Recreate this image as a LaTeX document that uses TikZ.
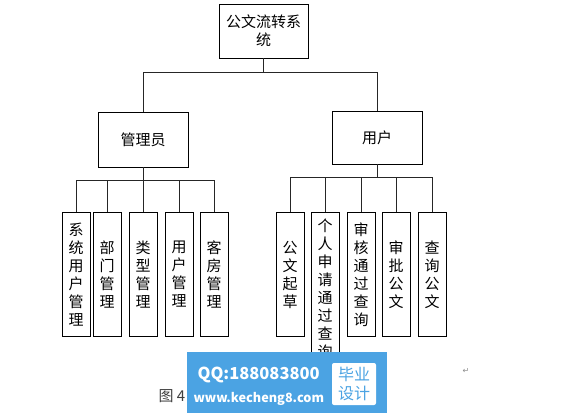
\documentclass[tikz,border=0pt]{standalone}
\usepackage{fontspec}
\setmainfont{Noto Sans CJK SC}
\newfontfamily\symfont{DejaVu Sans}
\usetikzlibrary{positioning}
\definecolor{markblue}{RGB}{75,163,227}

\begin{document}
\begin{tikzpicture}[x=1pt,y=-1pt]
        % ================= 样式定义 =================
        \tikzset{
            % 上层方框:白底黑边
            topbox/.style={draw=black, line width=0.9pt, fill=white, align=center, inner sep=2pt, font=\fontsize{15}{18}\selectfont},
            % 竖排文字的功能方框
            leafbox/.style={draw=black, line width=0.9pt, fill=white, anchor=north, minimum width=28pt, minimum height=124pt, text width=16pt, align=center, inner sep=0pt, font=\fontsize{15}{18}\selectfont},
            % 连线
            link/.style={draw=black!85, line width=0.9pt}
        }

        % 画布大小
        \fill[white] (0,0) rectangle (575,418);
        \useasboundingbox (0,0) rectangle (575,418);

        % ================= 绘图部分 =================

        % 根节点
        \node[topbox, minimum width=89pt, minimum height=54pt] (sys) at (263.5,31) {公文流转系\\统};

        % 第二层
        \node[topbox, minimum width=90pt, minimum height=55pt] (admin) at (143,139.5) {管理员};
        \node[topbox, minimum width=90pt, minimum height=53pt] (user) at (377,137.5) {用户};

        % 管理员的功能
        \node[leafbox] (a1) at (76,212) {系\\统\\用\\户\\管\\理};
        \node[leafbox] (a2) at (107,212) {部\\门\\管\\理};
        \node[leafbox] (a3) at (143,212) {类\\型\\管\\理};
        \node[leafbox] (a4) at (179,212) {用\\户\\管\\理};
        \node[leafbox] (a5) at (214,212) {客\\房\\管\\理};

        % 用户的功能
        \node[leafbox] (u1) at (290,212) {公\\文\\起\\草};
        \node[leafbox, minimum height=152pt] (u2) at (325,212) {个\\人\\申\\请\\通\\过\\查\\询};
        \node[leafbox] (u3) at (361,212) {审\\核\\通\\过\\查\\询};
        \node[leafbox] (u4) at (396,212) {审\\批\\公\\文};
        \node[leafbox] (u5) at (432,212) {查\\询\\公\\文};

        % 连线:根 -> 第二层
        \draw[link] (sys.south) -- ++(0,14) -| (admin.north);
        \draw[link] (sys.south) -- ++(0,14) -| (user.north);

        % 连线:管理员 -> 功能
        \draw[link] (admin.south) -- ++(0,13) -| (a1.north);
        \draw[link] (admin.south) -- ++(0,13) -| (a2.north);
        \draw[link] (admin.south) -- (a3.north);
        \draw[link] (admin.south) -- ++(0,13) -| (a4.north);
        \draw[link] (admin.south) -- ++(0,13) -| (a5.north);

        % 连线:用户 -> 功能
        \draw[link] (user.south) -- ++(0,13) -| (u1.north);
        \draw[link] (user.south) -- ++(0,13) -| (u2.north);
        \draw[link] (user.south) -- ++(0,13) -| (u3.north);
        \draw[link] (user.south) -- ++(0,13) -| (u4.north);
        \draw[link] (user.south) -- ++(0,13) -| (u5.north);

        % 图题与段落标记
        \node[anchor=west, text=black!75, font=\fontsize{15}{15}\selectfont] (cap) at (155,396) {图 4};
        \node[text=black!45, font=\symfont\fontsize{8}{8}\selectfont] (ret) at (466,371) {↵};

        % 水印 (画在最上层)
        \fill[markblue] (187,352) rectangle (387,413);
        \node[anchor=west, text=white, font=\bfseries\fontsize{16.5}{16.5}\selectfont] (qq) at (194,375) {QQ:188083800};
        \node[anchor=west, text=white, font=\bfseries\fontsize{12.7}{12.7}\selectfont] (web) at (190,399) {www.kecheng8.com};
        \node[fill=white, rounded corners=2pt, minimum width=44pt, minimum height=42pt, inner sep=0pt, align=center, text=markblue, font=\fontsize{16}{19}\selectfont] (grad) at (354,384) {毕业\\设计};

    \end{tikzpicture}
\end{document}
